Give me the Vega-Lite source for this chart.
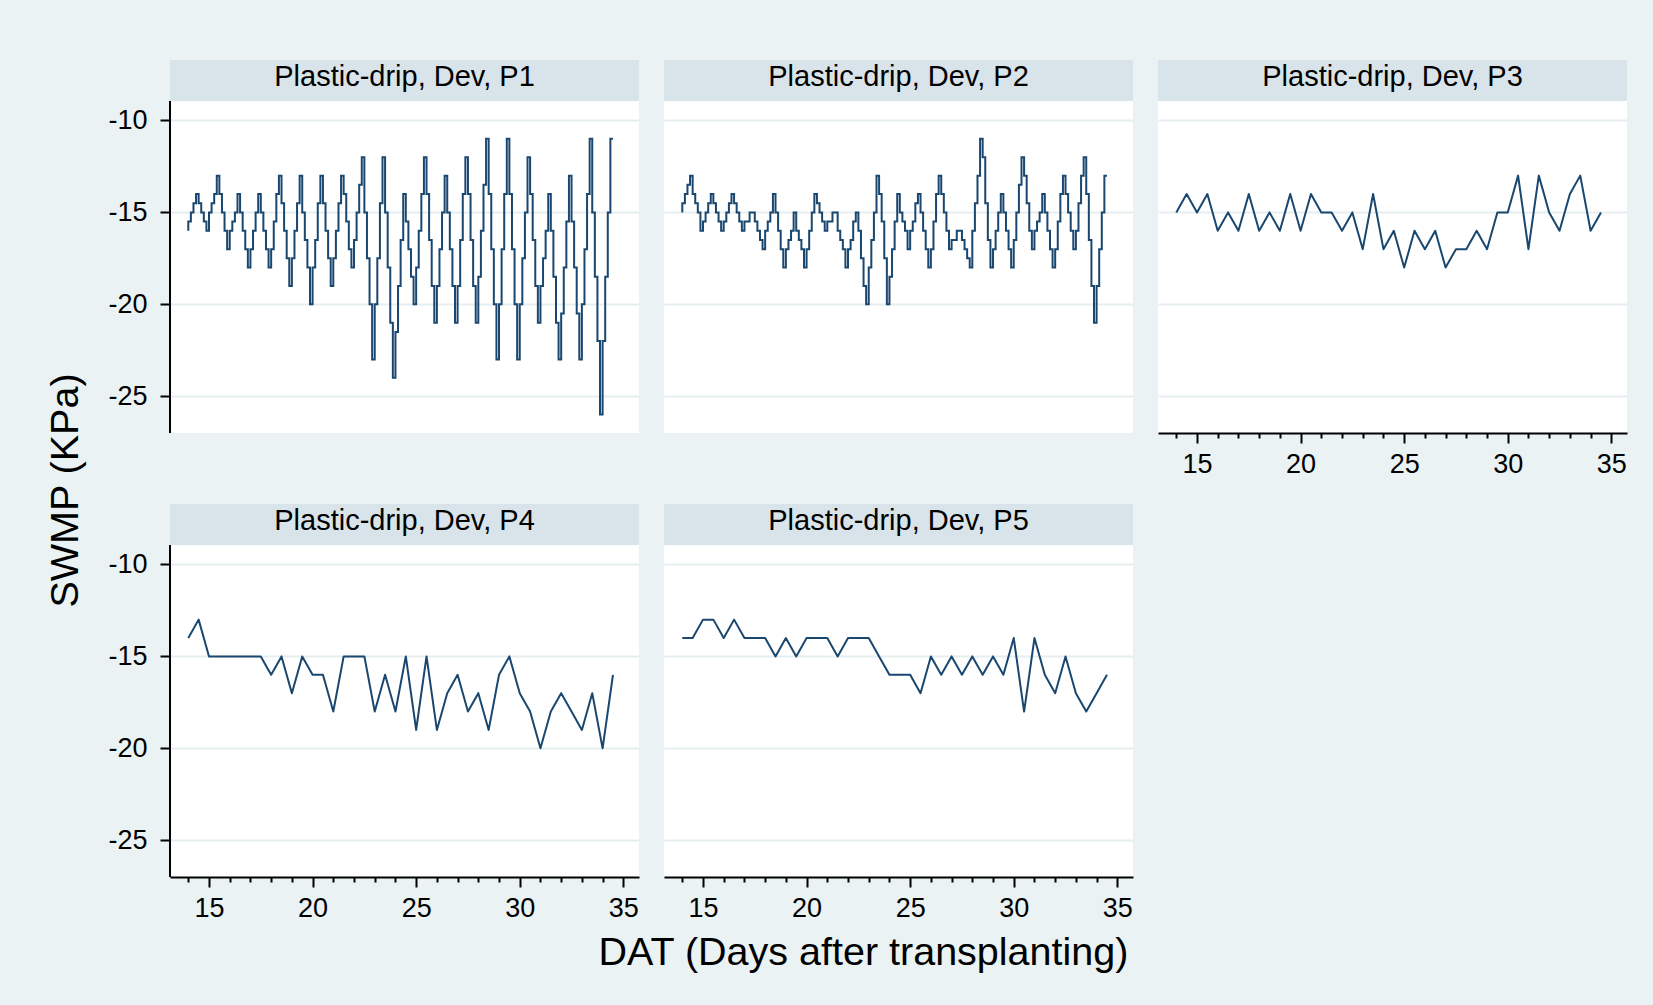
{
"$schema": "https://vega.github.io/schema/vega-lite/v6.json",
"background": "#EAF2F3",
"padding": {"left": 44, "top": 60, "right": 29, "bottom": 33},
"config": {
  "font": "Liberation Sans",
  "view": {"stroke": null},
  "axis": {"gridColor": "#E6EEF0", "gridWidth": 2, "domainColor": "#000000", "domainWidth": 2, "tickColor": "#000000", "tickWidth": 2, "labelColor": "#000000", "labelFontSize": 27, "titleColor": "#000000", "titleFontSize": 39.5, "titleFontWeight": "normal", "labelFlush": false, "labelOverlap": false, "labelBound": false}
},
"datasets": {
"p1": [
{"dat":14,"swmp":-16},{"dat":14.125,"swmp":-15.5},{"dat":14.25,"swmp":-15},{"dat":14.375,"swmp":-14.5},
{"dat":14.5,"swmp":-14},{"dat":14.625,"swmp":-14.5},{"dat":14.75,"swmp":-15},{"dat":14.875,"swmp":-15.5},
{"dat":15,"swmp":-16},{"dat":15.125,"swmp":-15},{"dat":15.25,"swmp":-14.5},{"dat":15.375,"swmp":-14},
{"dat":15.5,"swmp":-13},{"dat":15.625,"swmp":-14},{"dat":15.75,"swmp":-15},{"dat":15.875,"swmp":-16},
{"dat":16,"swmp":-17},{"dat":16.125,"swmp":-16},{"dat":16.25,"swmp":-15.5},{"dat":16.375,"swmp":-15},
{"dat":16.5,"swmp":-14},{"dat":16.625,"swmp":-15},{"dat":16.75,"swmp":-16},{"dat":16.875,"swmp":-17},
{"dat":17,"swmp":-18},{"dat":17.125,"swmp":-17},{"dat":17.25,"swmp":-16},{"dat":17.375,"swmp":-15},
{"dat":17.5,"swmp":-14},{"dat":17.625,"swmp":-15},{"dat":17.75,"swmp":-16},{"dat":17.875,"swmp":-17},
{"dat":18,"swmp":-18},{"dat":18.125,"swmp":-17},{"dat":18.25,"swmp":-15.5},{"dat":18.375,"swmp":-14},
{"dat":18.5,"swmp":-13},{"dat":18.625,"swmp":-14.5},{"dat":18.75,"swmp":-16},{"dat":18.875,"swmp":-17.5},
{"dat":19,"swmp":-19},{"dat":19.125,"swmp":-17.5},{"dat":19.25,"swmp":-16},{"dat":19.375,"swmp":-14.5},
{"dat":19.5,"swmp":-13},{"dat":19.625,"swmp":-15},{"dat":19.75,"swmp":-16.5},{"dat":19.875,"swmp":-18},
{"dat":20,"swmp":-20},{"dat":20.125,"swmp":-18},{"dat":20.25,"swmp":-16.5},{"dat":20.375,"swmp":-14.5},
{"dat":20.5,"swmp":-13},{"dat":20.625,"swmp":-14.5},{"dat":20.75,"swmp":-16},{"dat":20.875,"swmp":-17.5},
{"dat":21,"swmp":-19},{"dat":21.125,"swmp":-17.5},{"dat":21.25,"swmp":-16},{"dat":21.375,"swmp":-14.5},
{"dat":21.5,"swmp":-13},{"dat":21.625,"swmp":-14},{"dat":21.75,"swmp":-15.5},{"dat":21.875,"swmp":-17},
{"dat":22,"swmp":-18},{"dat":22.125,"swmp":-16.5},{"dat":22.25,"swmp":-15},{"dat":22.375,"swmp":-13.5},
{"dat":22.5,"swmp":-12},{"dat":22.625,"swmp":-15},{"dat":22.75,"swmp":-17.5},{"dat":22.875,"swmp":-20},
{"dat":23,"swmp":-23},{"dat":23.125,"swmp":-20},{"dat":23.25,"swmp":-17.5},{"dat":23.375,"swmp":-14.5},
{"dat":23.5,"swmp":-12},{"dat":23.625,"swmp":-15},{"dat":23.75,"swmp":-18},{"dat":23.875,"swmp":-21},
{"dat":24,"swmp":-24},{"dat":24.125,"swmp":-21.5},{"dat":24.25,"swmp":-19},{"dat":24.375,"swmp":-16.5},
{"dat":24.5,"swmp":-14},{"dat":24.625,"swmp":-15.5},{"dat":24.75,"swmp":-17},{"dat":24.875,"swmp":-18.5},
{"dat":25,"swmp":-20},{"dat":25.125,"swmp":-18},{"dat":25.25,"swmp":-16},{"dat":25.375,"swmp":-14},
{"dat":25.5,"swmp":-12},{"dat":25.625,"swmp":-14},{"dat":25.75,"swmp":-16.5},{"dat":25.875,"swmp":-19},
{"dat":26,"swmp":-21},{"dat":26.125,"swmp":-19},{"dat":26.25,"swmp":-17},{"dat":26.375,"swmp":-15},
{"dat":26.5,"swmp":-13},{"dat":26.625,"swmp":-15},{"dat":26.75,"swmp":-17},{"dat":26.875,"swmp":-19},
{"dat":27,"swmp":-21},{"dat":27.125,"swmp":-19},{"dat":27.25,"swmp":-16.5},{"dat":27.375,"swmp":-14},
{"dat":27.5,"swmp":-12},{"dat":27.625,"swmp":-14},{"dat":27.75,"swmp":-16.5},{"dat":27.875,"swmp":-19},
{"dat":28,"swmp":-21},{"dat":28.125,"swmp":-18.5},{"dat":28.25,"swmp":-16},{"dat":28.375,"swmp":-13.5},
{"dat":28.5,"swmp":-11},{"dat":28.625,"swmp":-14},{"dat":28.75,"swmp":-17},{"dat":28.875,"swmp":-20},
{"dat":29,"swmp":-23},{"dat":29.125,"swmp":-20},{"dat":29.25,"swmp":-17},{"dat":29.375,"swmp":-14},
{"dat":29.5,"swmp":-11},{"dat":29.625,"swmp":-14},{"dat":29.75,"swmp":-17},{"dat":29.875,"swmp":-20},
{"dat":30,"swmp":-23},{"dat":30.125,"swmp":-20},{"dat":30.25,"swmp":-17.5},{"dat":30.375,"swmp":-15},
{"dat":30.5,"swmp":-12},{"dat":30.625,"swmp":-14},{"dat":30.75,"swmp":-16.5},{"dat":30.875,"swmp":-19},
{"dat":31,"swmp":-21},{"dat":31.125,"swmp":-19},{"dat":31.25,"swmp":-17.5},{"dat":31.375,"swmp":-16},
{"dat":31.5,"swmp":-14},{"dat":31.625,"swmp":-16},{"dat":31.75,"swmp":-18.5},{"dat":31.875,"swmp":-21},
{"dat":32,"swmp":-23},{"dat":32.125,"swmp":-20.5},{"dat":32.25,"swmp":-18},{"dat":32.375,"swmp":-15.5},
{"dat":32.5,"swmp":-13},{"dat":32.625,"swmp":-15.5},{"dat":32.75,"swmp":-18},{"dat":32.875,"swmp":-20.5},
{"dat":33,"swmp":-23},{"dat":33.125,"swmp":-20},{"dat":33.25,"swmp":-17},{"dat":33.375,"swmp":-14},
{"dat":33.5,"swmp":-11},{"dat":33.625,"swmp":-15},{"dat":33.75,"swmp":-18.5},{"dat":33.875,"swmp":-22},
{"dat":34,"swmp":-26},{"dat":34.125,"swmp":-22},{"dat":34.25,"swmp":-18.5},{"dat":34.375,"swmp":-15},
{"dat":34.5,"swmp":-11}
],
"p2": [
{"dat":14,"swmp":-15},{"dat":14.125,"swmp":-14.5},{"dat":14.25,"swmp":-14},{"dat":14.375,"swmp":-13.5},
{"dat":14.5,"swmp":-13},{"dat":14.625,"swmp":-14},{"dat":14.75,"swmp":-14.5},{"dat":14.875,"swmp":-15},
{"dat":15,"swmp":-16},{"dat":15.125,"swmp":-15.5},{"dat":15.25,"swmp":-15},{"dat":15.375,"swmp":-14.5},
{"dat":15.5,"swmp":-14},{"dat":15.625,"swmp":-14.5},{"dat":15.75,"swmp":-15},{"dat":15.875,"swmp":-15.5},
{"dat":16,"swmp":-16},{"dat":16.125,"swmp":-15.5},{"dat":16.25,"swmp":-15},{"dat":16.375,"swmp":-14.5},
{"dat":16.5,"swmp":-14},{"dat":16.625,"swmp":-14.5},{"dat":16.75,"swmp":-15},{"dat":16.875,"swmp":-15.5},
{"dat":17,"swmp":-16},{"dat":17.125,"swmp":-15.5},{"dat":17.25,"swmp":-15.5},{"dat":17.375,"swmp":-15},
{"dat":17.5,"swmp":-15},{"dat":17.625,"swmp":-15.5},{"dat":17.75,"swmp":-16},{"dat":17.875,"swmp":-16.5},
{"dat":18,"swmp":-17},{"dat":18.125,"swmp":-16},{"dat":18.25,"swmp":-15.5},{"dat":18.375,"swmp":-15},
{"dat":18.5,"swmp":-14},{"dat":18.625,"swmp":-15},{"dat":18.75,"swmp":-16},{"dat":18.875,"swmp":-17},
{"dat":19,"swmp":-18},{"dat":19.125,"swmp":-17},{"dat":19.25,"swmp":-16.5},{"dat":19.375,"swmp":-16},
{"dat":19.5,"swmp":-15},{"dat":19.625,"swmp":-16},{"dat":19.75,"swmp":-16.5},{"dat":19.875,"swmp":-17},
{"dat":20,"swmp":-18},{"dat":20.125,"swmp":-17},{"dat":20.25,"swmp":-16},{"dat":20.375,"swmp":-15},
{"dat":20.5,"swmp":-14},{"dat":20.625,"swmp":-14.5},{"dat":20.75,"swmp":-15},{"dat":20.875,"swmp":-15.5},
{"dat":21,"swmp":-16},{"dat":21.125,"swmp":-15.5},{"dat":21.25,"swmp":-15.5},{"dat":21.375,"swmp":-15},
{"dat":21.5,"swmp":-15},{"dat":21.625,"swmp":-16},{"dat":21.75,"swmp":-16.5},{"dat":21.875,"swmp":-17},
{"dat":22,"swmp":-18},{"dat":22.125,"swmp":-17},{"dat":22.25,"swmp":-16.5},{"dat":22.375,"swmp":-15.5},
{"dat":22.5,"swmp":-15},{"dat":22.625,"swmp":-16},{"dat":22.75,"swmp":-17.5},{"dat":22.875,"swmp":-19},
{"dat":23,"swmp":-20},{"dat":23.125,"swmp":-18},{"dat":23.25,"swmp":-16.5},{"dat":23.375,"swmp":-15},
{"dat":23.5,"swmp":-13},{"dat":23.625,"swmp":-14},{"dat":23.75,"swmp":-15.5},{"dat":23.875,"swmp":-17.5},
{"dat":24,"swmp":-20},{"dat":24.125,"swmp":-18.5},{"dat":24.25,"swmp":-17},{"dat":24.375,"swmp":-15.5},
{"dat":24.5,"swmp":-14},{"dat":24.625,"swmp":-15},{"dat":24.75,"swmp":-15.5},{"dat":24.875,"swmp":-16},
{"dat":25,"swmp":-17},{"dat":25.125,"swmp":-16},{"dat":25.25,"swmp":-15.5},{"dat":25.375,"swmp":-14.5},
{"dat":25.5,"swmp":-14},{"dat":25.625,"swmp":-15},{"dat":25.75,"swmp":-16},{"dat":25.875,"swmp":-17},
{"dat":26,"swmp":-18},{"dat":26.125,"swmp":-17},{"dat":26.25,"swmp":-15.5},{"dat":26.375,"swmp":-14},
{"dat":26.5,"swmp":-13},{"dat":26.625,"swmp":-14},{"dat":26.75,"swmp":-15},{"dat":26.875,"swmp":-16},
{"dat":27,"swmp":-17},{"dat":27.125,"swmp":-16.5},{"dat":27.25,"swmp":-16.5},{"dat":27.375,"swmp":-16},
{"dat":27.5,"swmp":-16},{"dat":27.625,"swmp":-16.5},{"dat":27.75,"swmp":-17},{"dat":27.875,"swmp":-17.5},
{"dat":28,"swmp":-18},{"dat":28.125,"swmp":-16},{"dat":28.25,"swmp":-14.5},{"dat":28.375,"swmp":-13},
{"dat":28.5,"swmp":-11},{"dat":28.625,"swmp":-12},{"dat":28.75,"swmp":-14.5},{"dat":28.875,"swmp":-16.5},
{"dat":29,"swmp":-18},{"dat":29.125,"swmp":-17},{"dat":29.25,"swmp":-16},{"dat":29.375,"swmp":-15},
{"dat":29.5,"swmp":-14},{"dat":29.625,"swmp":-15},{"dat":29.75,"swmp":-16},{"dat":29.875,"swmp":-17},
{"dat":30,"swmp":-18},{"dat":30.125,"swmp":-16.5},{"dat":30.25,"swmp":-15},{"dat":30.375,"swmp":-13.5},
{"dat":30.5,"swmp":-12},{"dat":30.625,"swmp":-13},{"dat":30.75,"swmp":-14.5},{"dat":30.875,"swmp":-16},
{"dat":31,"swmp":-17},{"dat":31.125,"swmp":-16},{"dat":31.25,"swmp":-15.5},{"dat":31.375,"swmp":-15},
{"dat":31.5,"swmp":-14},{"dat":31.625,"swmp":-15},{"dat":31.75,"swmp":-16},{"dat":31.875,"swmp":-17},
{"dat":32,"swmp":-18},{"dat":32.125,"swmp":-17},{"dat":32.25,"swmp":-15.5},{"dat":32.375,"swmp":-14},
{"dat":32.5,"swmp":-13},{"dat":32.625,"swmp":-14},{"dat":32.75,"swmp":-15},{"dat":32.875,"swmp":-16},
{"dat":33,"swmp":-17},{"dat":33.125,"swmp":-16},{"dat":33.25,"swmp":-14.5},{"dat":33.375,"swmp":-13},
{"dat":33.5,"swmp":-12},{"dat":33.625,"swmp":-14},{"dat":33.75,"swmp":-16.5},{"dat":33.875,"swmp":-19},
{"dat":34,"swmp":-21},{"dat":34.125,"swmp":-19},{"dat":34.25,"swmp":-17},{"dat":34.375,"swmp":-15},
{"dat":34.5,"swmp":-13}
],
"p3": [
{"dat":14,"swmp":-15},{"dat":14.5,"swmp":-14},{"dat":15,"swmp":-15},{"dat":15.5,"swmp":-14},{"dat":16,"swmp":-16},{"dat":16.5,"swmp":-15},{"dat":17,"swmp":-16},{"dat":17.5,"swmp":-14},{"dat":18,"swmp":-16},{"dat":18.5,"swmp":-15},{"dat":19,"swmp":-16},{"dat":19.5,"swmp":-14},{"dat":20,"swmp":-16},{"dat":20.5,"swmp":-14},{"dat":21,"swmp":-15},{"dat":21.5,"swmp":-15},{"dat":22,"swmp":-16},{"dat":22.5,"swmp":-15},{"dat":23,"swmp":-17},{"dat":23.5,"swmp":-14},{"dat":24,"swmp":-17},{"dat":24.5,"swmp":-16},{"dat":25,"swmp":-18},{"dat":25.5,"swmp":-16},{"dat":26,"swmp":-17},{"dat":26.5,"swmp":-16},{"dat":27,"swmp":-18},{"dat":27.5,"swmp":-17},{"dat":28,"swmp":-17},{"dat":28.5,"swmp":-16},{"dat":29,"swmp":-17},{"dat":29.5,"swmp":-15},{"dat":30,"swmp":-15},{"dat":30.5,"swmp":-13},{"dat":31,"swmp":-17},{"dat":31.5,"swmp":-13},{"dat":32,"swmp":-15},{"dat":32.5,"swmp":-16},{"dat":33,"swmp":-14},{"dat":33.5,"swmp":-13},{"dat":34,"swmp":-16},{"dat":34.5,"swmp":-15}
],
"p4": [
{"dat":14,"swmp":-14},{"dat":14.5,"swmp":-13},{"dat":15,"swmp":-15},{"dat":15.5,"swmp":-15},{"dat":16,"swmp":-15},{"dat":16.5,"swmp":-15},{"dat":17,"swmp":-15},{"dat":17.5,"swmp":-15},{"dat":18,"swmp":-16},{"dat":18.5,"swmp":-15},{"dat":19,"swmp":-17},{"dat":19.5,"swmp":-15},{"dat":20,"swmp":-16},{"dat":20.5,"swmp":-16},{"dat":21,"swmp":-18},{"dat":21.5,"swmp":-15},{"dat":22,"swmp":-15},{"dat":22.5,"swmp":-15},{"dat":23,"swmp":-18},{"dat":23.5,"swmp":-16},{"dat":24,"swmp":-18},{"dat":24.5,"swmp":-15},{"dat":25,"swmp":-19},{"dat":25.5,"swmp":-15},{"dat":26,"swmp":-19},{"dat":26.5,"swmp":-17},{"dat":27,"swmp":-16},{"dat":27.5,"swmp":-18},{"dat":28,"swmp":-17},{"dat":28.5,"swmp":-19},{"dat":29,"swmp":-16},{"dat":29.5,"swmp":-15},{"dat":30,"swmp":-17},{"dat":30.5,"swmp":-18},{"dat":31,"swmp":-20},{"dat":31.5,"swmp":-18},{"dat":32,"swmp":-17},{"dat":32.5,"swmp":-18},{"dat":33,"swmp":-19},{"dat":33.5,"swmp":-17},{"dat":34,"swmp":-20},{"dat":34.5,"swmp":-16}
],
"p5": [
{"dat":14,"swmp":-14},{"dat":14.5,"swmp":-14},{"dat":15,"swmp":-13},{"dat":15.5,"swmp":-13},{"dat":16,"swmp":-14},{"dat":16.5,"swmp":-13},{"dat":17,"swmp":-14},{"dat":17.5,"swmp":-14},{"dat":18,"swmp":-14},{"dat":18.5,"swmp":-15},{"dat":19,"swmp":-14},{"dat":19.5,"swmp":-15},{"dat":20,"swmp":-14},{"dat":20.5,"swmp":-14},{"dat":21,"swmp":-14},{"dat":21.5,"swmp":-15},{"dat":22,"swmp":-14},{"dat":22.5,"swmp":-14},{"dat":23,"swmp":-14},{"dat":23.5,"swmp":-15},{"dat":24,"swmp":-16},{"dat":24.5,"swmp":-16},{"dat":25,"swmp":-16},{"dat":25.5,"swmp":-17},{"dat":26,"swmp":-15},{"dat":26.5,"swmp":-16},{"dat":27,"swmp":-15},{"dat":27.5,"swmp":-16},{"dat":28,"swmp":-15},{"dat":28.5,"swmp":-16},{"dat":29,"swmp":-15},{"dat":29.5,"swmp":-16},{"dat":30,"swmp":-14},{"dat":30.5,"swmp":-18},{"dat":31,"swmp":-14},{"dat":31.5,"swmp":-16},{"dat":32,"swmp":-17},{"dat":32.5,"swmp":-15},{"dat":33,"swmp":-17},{"dat":33.5,"swmp":-18},{"dat":34,"swmp":-17},{"dat":34.5,"swmp":-16}
]
},
"columns": 3,
"spacing": {"row": 71, "column": 25},
"bounds": "flush",
"concat": [
{"width": 469, "height": 373, "view": {"fill": "#FFFFFF", "stroke": null}, "layer": [
  {"data": {"name": "p1"}, "mark": {"type": "line", "interpolate": "step-before", "stroke": "#1A476F", "strokeWidth": 2},
   "encoding": {
     "x": {"field": "dat", "type": "quantitative", "scale": {"domain": [13.117, 35.757], "nice": false, "zero": false}, "axis": null},
     "y": {"field": "swmp", "type": "quantitative", "scale": {"domain": [-27.0, -6.71], "nice": false, "zero": false}, "axis": {"values": [-10, -15, -20, -25], "labelExpr": "'' + datum.value", "labelOverlap": false, "grid": true, "domain": false, "tickSize": 10, "labelPadding": 13, "title": null}}
   }},
  {"data": {"values": [{"label": "Plastic-drip, Dev, P1"}]}, "mark": {"type": "rect", "color": "#D8E4EA"},
   "encoding": {"x": {"datum": 13.117, "type": "quantitative"}, "x2": {"datum": 35.757}, "y": {"datum": -8.94, "type": "quantitative"}, "y2": {"datum": -6.71}}},
  {"data": {"values": [{"label": "Plastic-drip, Dev, P1"}]}, "mark": {"type": "text", "fontSize": 29, "color": "#000000", "baseline": "alphabetic"},
   "encoding": {"x": {"datum": 24.437, "type": "quantitative"}, "y": {"datum": -8.15, "type": "quantitative"}, "text": {"field": "label"}}},
  {"data": {"values": [{"label": "axis"}]}, "mark": {"type": "rule", "color": "#000000", "strokeWidth": 2},
   "encoding": {"x": {"datum": 13.117, "type": "quantitative"}, "y": {"datum": -27.0, "type": "quantitative"}, "y2": {"datum": -8.94}}}
]},
{"width": 469, "height": 373, "view": {"fill": "#FFFFFF", "stroke": null}, "layer": [
  {"data": {"name": "p2"}, "mark": {"type": "line", "interpolate": "step-before", "stroke": "#1A476F", "strokeWidth": 2},
   "encoding": {
     "x": {"field": "dat", "type": "quantitative", "scale": {"domain": [13.117, 35.757], "nice": false, "zero": false}, "axis": null},
     "y": {"field": "swmp", "type": "quantitative", "scale": {"domain": [-27.0, -6.71], "nice": false, "zero": false}, "axis": {"values": [-10, -15, -20, -25], "grid": true, "domain": false, "ticks": false, "labels": false, "title": null}}
   }},
  {"data": {"values": [{"label": "Plastic-drip, Dev, P2"}]}, "mark": {"type": "rect", "color": "#D8E4EA"},
   "encoding": {"x": {"datum": 13.117, "type": "quantitative"}, "x2": {"datum": 35.757}, "y": {"datum": -8.94, "type": "quantitative"}, "y2": {"datum": -6.71}}},
  {"data": {"values": [{"label": "Plastic-drip, Dev, P2"}]}, "mark": {"type": "text", "fontSize": 29, "color": "#000000", "baseline": "alphabetic"},
   "encoding": {"x": {"datum": 24.437, "type": "quantitative"}, "y": {"datum": -8.15, "type": "quantitative"}, "text": {"field": "label"}}}
]},
{"width": 469, "height": 373, "view": {"fill": "#FFFFFF", "stroke": null}, "layer": [
  {"data": {"name": "p3"}, "mark": {"type": "line", "stroke": "#1A476F", "strokeWidth": 2, "strokeJoin": "round"},
   "encoding": {
     "x": {"field": "dat", "type": "quantitative", "scale": {"domain": [13.117, 35.757], "nice": false, "zero": false}, "axis": {"values": [14,15,16,17,18,19,20,21,22,23,24,25,26,27,28,29,30,31,32,33,34,35], "labelExpr": "datum.value % 5 === 0 ? datum.label : ''", "labelOverlap": false, "tickSize": {"condition": {"test": "datum.value % 5 === 0", "value": 10}, "value": 5}, "labelPadding": 8, "grid": false, "title": null}},
     "y": {"field": "swmp", "type": "quantitative", "scale": {"domain": [-27.0, -6.71], "nice": false, "zero": false}, "axis": {"values": [-10, -15, -20, -25], "grid": true, "domain": false, "ticks": false, "labels": false, "title": null}}
   }},
  {"data": {"values": [{"label": "Plastic-drip, Dev, P3"}]}, "mark": {"type": "rect", "color": "#D8E4EA"},
   "encoding": {"x": {"datum": 13.117, "type": "quantitative", "axis": {"values": [14,15,16,17,18,19,20,21,22,23,24,25,26,27,28,29,30,31,32,33,34,35], "labelExpr": "datum.value % 5 === 0 ? datum.label : ''", "labelOverlap": false, "tickSize": {"condition": {"test": "datum.value % 5 === 0", "value": 10}, "value": 5}, "labelPadding": 8, "grid": false, "title": null}}, "x2": {"datum": 35.757}, "y": {"datum": -8.94, "type": "quantitative"}, "y2": {"datum": -6.71}}},
  {"data": {"values": [{"label": "Plastic-drip, Dev, P3"}]}, "mark": {"type": "text", "fontSize": 29, "color": "#000000", "baseline": "alphabetic"},
   "encoding": {"x": {"datum": 24.437, "type": "quantitative", "axis": {"values": [14,15,16,17,18,19,20,21,22,23,24,25,26,27,28,29,30,31,32,33,34,35], "labelExpr": "datum.value % 5 === 0 ? datum.label : ''", "labelOverlap": false, "tickSize": {"condition": {"test": "datum.value % 5 === 0", "value": 10}, "value": 5}, "labelPadding": 8, "grid": false, "title": null}}, "y": {"datum": -8.15, "type": "quantitative"}, "text": {"field": "label"}}}
]},
{"width": 469, "height": 373, "view": {"fill": "#FFFFFF", "stroke": null}, "layer": [
  {"data": {"name": "p4"}, "mark": {"type": "line", "stroke": "#1A476F", "strokeWidth": 2, "strokeJoin": "round"},
   "encoding": {
     "x": {"field": "dat", "type": "quantitative", "scale": {"domain": [13.117, 35.757], "nice": false, "zero": false}, "axis": {"values": [14,15,16,17,18,19,20,21,22,23,24,25,26,27,28,29,30,31,32,33,34,35], "labelExpr": "datum.value % 5 === 0 ? datum.label : ''", "labelOverlap": false, "tickSize": {"condition": {"test": "datum.value % 5 === 0", "value": 10}, "value": 5}, "labelPadding": 8, "grid": false, "title": null}},
     "y": {"field": "swmp", "type": "quantitative", "scale": {"domain": [-27.0, -6.71], "nice": false, "zero": false}, "axis": {"values": [-10, -15, -20, -25], "labelExpr": "'' + datum.value", "labelOverlap": false, "grid": true, "domain": false, "tickSize": 10, "labelPadding": 13, "title": "SWMP (KPa)", "titleX": -93, "titleY": -14, "titleAngle": 270, "titleBaseline": "alphabetic", "titleAlign": "center"}}
   }},
  {"data": {"values": [{"label": "Plastic-drip, Dev, P4"}]}, "mark": {"type": "rect", "color": "#D8E4EA"},
   "encoding": {"x": {"datum": 13.117, "type": "quantitative", "axis": {"values": [14,15,16,17,18,19,20,21,22,23,24,25,26,27,28,29,30,31,32,33,34,35], "labelExpr": "datum.value % 5 === 0 ? datum.label : ''", "labelOverlap": false, "tickSize": {"condition": {"test": "datum.value % 5 === 0", "value": 10}, "value": 5}, "labelPadding": 8, "grid": false, "title": null}}, "x2": {"datum": 35.757}, "y": {"datum": -8.94, "type": "quantitative"}, "y2": {"datum": -6.71}}},
  {"data": {"values": [{"label": "Plastic-drip, Dev, P4"}]}, "mark": {"type": "text", "fontSize": 29, "color": "#000000", "baseline": "alphabetic"},
   "encoding": {"x": {"datum": 24.437, "type": "quantitative", "axis": {"values": [14,15,16,17,18,19,20,21,22,23,24,25,26,27,28,29,30,31,32,33,34,35], "labelExpr": "datum.value % 5 === 0 ? datum.label : ''", "labelOverlap": false, "tickSize": {"condition": {"test": "datum.value % 5 === 0", "value": 10}, "value": 5}, "labelPadding": 8, "grid": false, "title": null}}, "y": {"datum": -8.15, "type": "quantitative"}, "text": {"field": "label"}}},
  {"data": {"values": [{"label": "axis"}]}, "mark": {"type": "rule", "color": "#000000", "strokeWidth": 2},
   "encoding": {"x": {"datum": 13.117, "type": "quantitative", "axis": {"values": [14,15,16,17,18,19,20,21,22,23,24,25,26,27,28,29,30,31,32,33,34,35], "labelExpr": "datum.value % 5 === 0 ? datum.label : ''", "labelOverlap": false, "tickSize": {"condition": {"test": "datum.value % 5 === 0", "value": 10}, "value": 5}, "labelPadding": 8, "grid": false, "title": null}}, "y": {"datum": -27.0, "type": "quantitative"}, "y2": {"datum": -8.94}}}
]},
{"width": 469, "height": 373, "view": {"fill": "#FFFFFF", "stroke": null}, "layer": [
  {"data": {"name": "p5"}, "mark": {"type": "line", "stroke": "#1A476F", "strokeWidth": 2, "strokeJoin": "round"},
   "encoding": {
     "x": {"field": "dat", "type": "quantitative", "scale": {"domain": [13.117, 35.757], "nice": false, "zero": false}, "axis": {"values": [14,15,16,17,18,19,20,21,22,23,24,25,26,27,28,29,30,31,32,33,34,35], "labelExpr": "datum.value % 5 === 0 ? datum.label : ''", "labelOverlap": false, "tickSize": {"condition": {"test": "datum.value % 5 === 0", "value": 10}, "value": 5}, "labelPadding": 8, "grid": false, "title": "DAT (Days after transplanting)", "titleX": 199, "titleY": 87, "titleBaseline": "alphabetic", "titleAlign": "center"}},
     "y": {"field": "swmp", "type": "quantitative", "scale": {"domain": [-27.0, -6.71], "nice": false, "zero": false}, "axis": {"values": [-10, -15, -20, -25], "grid": true, "domain": false, "ticks": false, "labels": false, "title": null}}
   }},
  {"data": {"values": [{"label": "Plastic-drip, Dev, P5"}]}, "mark": {"type": "rect", "color": "#D8E4EA"},
   "encoding": {"x": {"datum": 13.117, "type": "quantitative", "axis": {"values": [14,15,16,17,18,19,20,21,22,23,24,25,26,27,28,29,30,31,32,33,34,35], "labelExpr": "datum.value % 5 === 0 ? datum.label : ''", "labelOverlap": false, "tickSize": {"condition": {"test": "datum.value % 5 === 0", "value": 10}, "value": 5}, "labelPadding": 8, "grid": false, "title": "DAT (Days after transplanting)", "titleX": 199, "titleY": 87, "titleBaseline": "alphabetic", "titleAlign": "center"}}, "x2": {"datum": 35.757}, "y": {"datum": -8.94, "type": "quantitative"}, "y2": {"datum": -6.71}}},
  {"data": {"values": [{"label": "Plastic-drip, Dev, P5"}]}, "mark": {"type": "text", "fontSize": 29, "color": "#000000", "baseline": "alphabetic"},
   "encoding": {"x": {"datum": 24.437, "type": "quantitative", "axis": {"values": [14,15,16,17,18,19,20,21,22,23,24,25,26,27,28,29,30,31,32,33,34,35], "labelExpr": "datum.value % 5 === 0 ? datum.label : ''", "labelOverlap": false, "tickSize": {"condition": {"test": "datum.value % 5 === 0", "value": 10}, "value": 5}, "labelPadding": 8, "grid": false, "title": "DAT (Days after transplanting)", "titleX": 199, "titleY": 87, "titleBaseline": "alphabetic", "titleAlign": "center"}}, "y": {"datum": -8.15, "type": "quantitative"}, "text": {"field": "label"}}}
]}
]
}
